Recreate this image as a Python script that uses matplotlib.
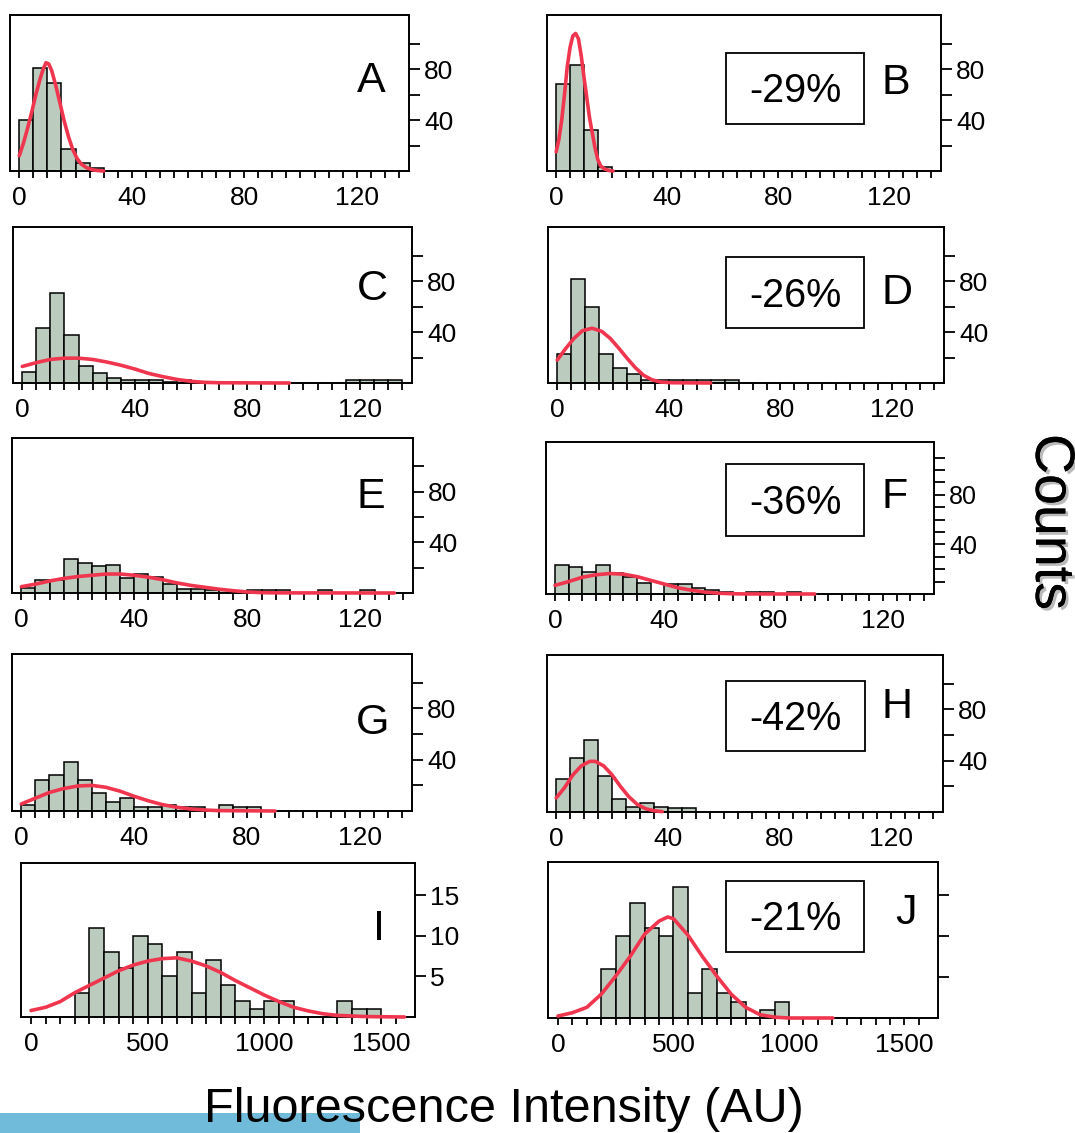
"""Fluorescence intensity histograms with fitted curves, panels A-J."""

import matplotlib

matplotlib.use("Agg")
import matplotlib.pyplot as plt
import matplotlib.patheffects as pe
from matplotlib.patches import Rectangle
import numpy as np

plt.rcParams["font.family"] = ["Liberation Sans", "DejaVu Sans"]

W, H = 1075, 1133

# histogram counts (bins of 5 AU starting at 0 for A-H, 62.5 AU from 187.5 for I-J)
A_counts = [40, 81, 69, 17, 6, 2]
B_counts = [68, 83, 32, 3]
C_counts = [9, 43, 71, 38, 13, 8, 4, 2, 2, 2, 1, 2,
            0, 0, 0, 0, 0, 0, 0, 0, 0, 0, 0, 2, 2, 2, 2]
D_counts = [23, 82, 60, 23, 12, 7, 2, 2, 2, 2, 2, 2, 2]
E_counts = [4, 10, 10, 27, 24, 21, 22, 12, 15, 13, 7, 3, 3, 2, 2, 1,
            2, 2, 2, 0, 0, 2, 0, 0, 2]
F_counts = [23, 22, 18, 23, 17, 14, 9, 0, 8, 8, 5, 3, 2, 0, 2, 2, 0, 2]
G_counts = [5, 24, 28, 38, 24, 14, 7, 10, 3, 3, 5, 3, 3, 0, 5, 3, 3]
H_counts = [26, 42, 56, 28, 10, 4, 7, 4, 3, 3]
I_counts = [3, 11, 8, 6, 10, 9, 5, 8, 3, 7, 4, 2, 1, 2, 2, 0, 0, 0, 2, 1, 1]
J_counts = [6, 10, 14, 11, 10, 16, 3, 6, 3, 2, 0, 1, 2]

# fitted curves
A_fit_x = [0, 1.5, 3, 4.5, 6, 7.5, 8.5, 9.5, 10.5, 11.5, 13, 14.5, 16, 17.5,
           19, 20.5, 22, 24, 26, 28, 30]
A_fit_y = [12, 22, 34, 47, 61, 73, 80, 85, 84, 79, 67, 53, 39, 27,
           17, 10, 5.5, 2.5, 1, 0.3, 0]
B_fit_x = [0, 1, 2, 3, 4, 5, 6, 7, 8, 9, 10, 11, 12, 13, 14, 15, 16, 17.5,
           19, 20.5]
B_fit_y = [15, 25, 40, 60, 82, 97, 106, 108, 104, 91, 74, 58, 42, 30, 18, 9,
           4, 1.5, 0.4, 0]
C_fit_x = [0, 5, 10, 15, 20, 25, 30, 35, 40, 45, 50, 55, 60, 65, 70, 95]
C_fit_y = [13, 16, 18.5, 19.5, 19.5, 18.5, 16.5, 14, 11, 7.5, 5, 2.8, 1.3,
           0.5, 0.2, 0]
D_fit_x = [0, 3, 6, 9, 12.5, 16, 19, 22, 25, 28, 31, 34, 37, 41, 55]
D_fit_y = [18, 27, 35, 41, 43, 40.5, 35, 27.5, 19.5, 12, 6, 2.5, 0.8, 0.2, 0]
E_fit_x = [0, 5, 10, 15, 20, 25, 30, 35, 40, 45, 50, 55, 60, 65, 70, 75, 80,
           85, 90, 132]
E_fit_y = [5, 7, 9.5, 11.5, 13, 14, 15, 15, 14, 12.5, 10.5, 8, 6, 4.5, 3,
           1.8, 0.8, 0.3, 0.1, 0]
F_fit_x = [0, 5, 10, 15, 20, 25, 30, 35, 40, 45, 50, 55, 60, 65, 70, 95]
F_fit_y = [7, 10, 13.5, 15.5, 16.5, 16, 14, 11, 8, 5, 3, 1.5, 0.6, 0.2,
           0.05, 0]
G_fit_x = [0, 5, 10, 15, 20, 25, 30, 35, 40, 45, 50, 55, 60, 65, 70, 90]
G_fit_y = [5.5, 10, 14.5, 17.5, 19.5, 20, 18.5, 15.5, 11.5, 8, 5, 3, 1.6,
           0.8, 0.3, 0]
H_fit_x = [0, 3, 6, 9, 12, 14, 17, 20, 23, 26, 29, 32, 35, 38]
H_fit_y = [11, 19, 29, 36, 39.5, 39.5, 36, 29, 20, 12, 6, 2.6, 1, 0.3]
I_fit_x = [0, 62.5, 125, 187.5, 250, 312.5, 375, 437.5, 500, 562.5, 625,
           687.5, 750, 812.5, 875, 937.5, 1000, 1062.5, 1125, 1187.5, 1250,
           1312.5, 1437.5, 1600]
I_fit_y = [0.8, 1.2, 1.9, 3.0, 3.9, 4.8, 5.7, 6.4, 6.9, 7.2, 7.3, 6.9, 6.3,
           5.5, 4.5, 3.6, 2.7, 1.9, 1.2, 0.75, 0.4, 0.2, 0.05, 0]
J_fit_x = [0, 62.5, 125, 187.5, 250, 312.5, 375, 437.5, 475, 500, 562.5, 625,
           687.5, 750, 812.5, 875, 937.5, 1000, 1190]
J_fit_y = [0.24, 0.64, 1.3, 2.9, 5.1, 7.5, 10.2, 11.8, 12.3, 12.1, 10.1, 7.5,
           5.1, 2.9, 1.3, 0.4, 0.1, 0, 0]

panel_letters = ["A", "B", "C", "D", "E", "F", "G", "H", "I", "J"]
percent_labels = {"B": "-29%", "D": "-26%", "F": "-36%", "H": "-42%", "J": "-21%"}
small_ticks = ["0", "40", "80", "120"]
large_ticks = ["0", "500", "1000", "1500"]

BAR_COLOR = "#bbcbbd"
FIT_COLOR = "#f0364e"

# axes rectangles in pixels: left, top, right, bottom
RECTS = {
    "A": (10, 15, 409, 171), "B": (547, 15, 941, 171),
    "C": (13, 227, 412, 383), "D": (548, 227, 944, 383),
    "E": (12, 438, 413, 593), "F": (546, 442, 934, 594),
    "G": (12, 654, 412, 811), "H": (547, 655, 943, 812),
    "I": (21, 863, 415, 1017), "J": (548, 862, 938, 1018),
}
LETTER_POS = {
    "A": (371, 77), "B": (896, 79), "C": (372, 285), "D": (897, 288),
    "E": (371, 493), "F": (895, 492), "G": (373, 718), "H": (897, 702),
    "I": (379, 925), "J": (906, 909),
}
BOX_POS = {  # left, top, right, bottom
    "B": (726, 53, 864, 124), "D": (726, 257, 864, 328),
    "F": (726, 464, 864, 536), "H": (726, 681, 865, 751),
    "J": (726, 881, 864, 952),
}


def fx(px):
    return px / W


def fy(py):
    return 1 - py / H


def build_panels():
    panels = {}
    counts = [A_counts, B_counts, C_counts, D_counts, E_counts,
              F_counts, G_counts, H_counts, I_counts, J_counts]
    fits = [(A_fit_x, A_fit_y), (B_fit_x, B_fit_y), (C_fit_x, C_fit_y),
            (D_fit_x, D_fit_y), (E_fit_x, E_fit_y), (F_fit_x, F_fit_y),
            (G_fit_x, G_fit_y), (H_fit_x, H_fit_y), (I_fit_x, I_fit_y),
            (J_fit_x, J_fit_y)]
    for letter, c, (x, y) in zip(panel_letters, counts, fits):
        panels[letter] = {"counts": c, "fit_x": x, "fit_y": y}
    return panels


def style_axis(ax, letter):
    big = letter in ("I", "J")
    for sp in ax.spines.values():
        sp.set_linewidth(1.4)
    ax.tick_params(axis="x", which="both", direction="out", length=5,
                   width=1.3, top=False, bottom=True, labelsize=19, pad=6)
    ax.tick_params(axis="y", which="both", direction="out", length=8,
                   width=1.3, left=False, right=True, labelleft=False,
                   labelright=True, labelsize=19, pad=3)
    if big:
        ax.set_xlim(-43, 1645)
        ax.set_xticks([0, 500, 1000, 1500], large_ticks)
        ax.set_xticks(np.arange(0, 1563, 62.5), minor=True)
        ax.set_ylim(0, 19)
        ax.set_yticks([5, 10, 15])
        if letter == "J":
            ax.set_yticklabels([])
        ax.set_yticks([], minor=True)
    else:
        ax.set_xlim(-3.3, 138.6)
        ax.set_xticks([0, 40, 80, 120], small_ticks)
        ax.set_xticks(np.arange(0, 136, 5), minor=True)
        ax.set_ylim(0, 122.5)
        ax.set_yticks([40, 80])
        if letter == "F":
            ax.set_yticks([10, 20, 30, 50, 60, 70, 90, 100, 110], minor=True)
            ax.tick_params(axis="y", labelsize=18)
        else:
            ax.set_yticks([20, 60, 100], minor=True)


def main():
    panels = build_panels()
    fig = plt.figure(figsize=(W / 100, H / 100), dpi=100)

    for letter in panel_letters:
        p = panels[letter]
        l, t, r, b = RECTS[letter]
        ax = fig.add_axes([fx(l), fy(b), (r - l) / W, (b - t) / H])
        if letter in ("I", "J"):
            start, width = 187.5, 62.5
        else:
            start, width = 0.0, 5.0
        edges = start + width * np.arange(len(p["counts"]))
        counts = np.asarray(p["counts"], dtype=float)
        keep = counts > 0
        ax.bar(edges[keep], counts[keep], width=width, align="edge",
               color=BAR_COLOR, edgecolor="black", linewidth=1.1, zorder=2)
        ax.plot(p["fit_x"], p["fit_y"], color=FIT_COLOR, lw=2.6, zorder=3,
                solid_capstyle="round", clip_on=False)
        style_axis(ax, letter)

        lx, ly = LETTER_POS[letter]
        fig.text(fx(lx), fy(ly + 15.5), letter, fontsize=31, ha="center",
                 va="baseline")

        if letter in percent_labels:
            bl, bt, br, bb = BOX_POS[letter]
            fig.patches.append(Rectangle(
                (fx(bl), fy(bb)), (br - bl) / W, (bb - bt) / H,
                transform=fig.transFigure, facecolor="white",
                edgecolor="black", linewidth=1.3, zorder=5))
            fig.text(fx((bl + br) / 2), fy((bt + bb) / 2 + 14),
                     percent_labels[letter], fontsize=28.5, ha="center",
                     va="baseline", zorder=6)

    fig.patches.append(Rectangle((0, 0), 360 / W, 20 / H,
                                 transform=fig.transFigure,
                                 facecolor="#70bada", edgecolor="none",
                                 zorder=0))
    fig.text(fx(504), fy(1122), "Fluorescence Intensity (AU)", fontsize=35,
             ha="center", va="baseline", zorder=4)
    fig.text(fx(1050), fy(522), "Counts", fontsize=40, rotation=270,
             ha="center", va="center",
             path_effects=[pe.withSimplePatchShadow(offset=(2, -2),
                                                    shadow_rgbFace="0.55",
                                                    alpha=0.6),
                           pe.Normal()])

    fig.savefig("out.png", dpi=100)
    plt.close(fig)


if __name__ == "__main__":
    main()
